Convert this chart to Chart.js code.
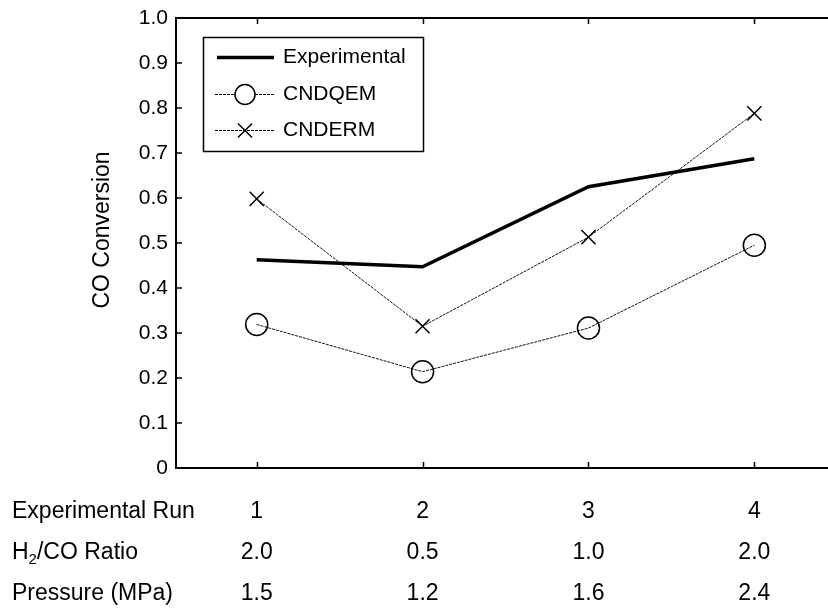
<!DOCTYPE html>
<html>
<head>
<meta charset="utf-8">
<script src="https://cdn.jsdelivr.net/npm/chart.js@4/dist/chart.umd.min.js"></script>
<style>
  html, body { margin: 0; padding: 0; background: #fff; overflow: hidden; }
  #wrap { position: relative; width: 828px; height: 611px; }
</style>
</head>
<body>
<div id="wrap"><canvas id="c" width="828" height="611"></canvas></div>
<script>
// ---- data ----
const runs = [1, 2, 3, 4];
const h2coRatio = ['2.0', '0.5', '1.0', '2.0'];
const pressure = ['1.5', '1.2', '1.6', '2.4'];
const experimental = [0.463, 0.447, 0.625, 0.687];
const cndqem = [0.319, 0.214, 0.311, 0.495];
const cnderm = [0.598, 0.315, 0.513, 0.788];
const yTicks = [0, 0.1, 0.2, 0.3, 0.4, 0.5, 0.6, 0.7, 0.8, 0.9, 1.0];
const seriesNames = ['Experimental', 'CNDQEM', 'CNDERM'];
const rowHeaders = ['Experimental Run', 'H2/CO Ratio', 'Pressure (MPa)'];
const yTitle = 'CO Conversion';

const FONT = "'Liberation Sans', Arial, sans-serif";
const TABLE_FONT = 23;
const TABLE_LH = 41;
const TABLE_PAD = 23;

function pts(vals) { return runs.map((r, i) => ({ x: r, y: vals[i] })); }

const axesPlugin = {
  id: 'axesPlugin',
  afterDraw(chart) {
    const ctx = chart.ctx;
    const a = chart.chartArea;
    const xs = chart.scales.x, ys = chart.scales.y;
    ctx.save();
    ctx.strokeStyle = '#000';
    // top line
    ctx.lineWidth = 2;
    ctx.beginPath();
    ctx.moveTo(a.left - 1, a.top);
    ctx.lineTo(a.right, a.top);
    ctx.stroke();
    // inward ticks
    ctx.lineWidth = 1.5;
    ctx.beginPath();
    runs.forEach(r => {
      const px = Math.round(xs.getPixelForValue(r)) + 0.5;
      ctx.moveTo(px, a.bottom); ctx.lineTo(px, a.bottom - 6);
      ctx.moveTo(px, a.top); ctx.lineTo(px, a.top + 6);
    });
    yTicks.forEach(v => {
      const py = ys.getPixelForValue(v);
      ctx.moveTo(a.left, py); ctx.lineTo(a.left + 6, py);
    });
    ctx.stroke();

    // y title
    ctx.save();
    ctx.translate(103, 230);
    ctx.rotate(-Math.PI / 2);
    ctx.fillStyle = '#000';
    ctx.font = '23px ' + FONT;
    ctx.textAlign = 'center';
    ctx.textBaseline = 'middle';
    ctx.fillText(yTitle, 0, 0);
    ctx.restore();

    // table row headers
    ctx.fillStyle = '#000';
    ctx.textBaseline = 'middle';
    ctx.textAlign = 'left';
    const x0 = 12;
    rowHeaders.forEach((h, i) => {
      const y = a.bottom + TABLE_PAD + TABLE_LH * (i + 0.5);
      if (h.startsWith('H2')) {
        ctx.font = TABLE_FONT + 'px ' + FONT;
        ctx.fillText('H', x0, y);
        let w = ctx.measureText('H').width;
        ctx.font = '15px ' + FONT;
        ctx.fillText('2', x0 + w, y + 7);
        w += ctx.measureText('2').width;
        ctx.font = TABLE_FONT + 'px ' + FONT;
        ctx.fillText(h.slice(2), x0 + w, y);
      } else {
        ctx.font = TABLE_FONT + 'px ' + FONT;
        ctx.fillText(h, x0, y);
      }
    });

    // legend
    const lx = 203, ly = 37, lw = 220, lh = 114;
    ctx.lineWidth = 1.5;
    ctx.strokeStyle = '#000';
    ctx.strokeRect(lx + 0.5, ly + 0.5, lw, lh);
    const rowsY = [57, 94, 130];
    ctx.font = '21px ' + FONT;
    ctx.textBaseline = 'middle';
    chart.data.datasets.forEach((ds, i) => {
      const y = rowsY[i] + 0.5;
      ctx.strokeStyle = '#000';
      ctx.lineWidth = ds.borderWidth;
      ctx.setLineDash(ds.borderDash || []);
      ctx.beginPath();
      const x1 = i === 0 ? 217 : 215, x2 = 274;
      ctx.moveTo(x1, y); ctx.lineTo(x2, y);
      ctx.stroke();
      ctx.setLineDash([]);
      const cx = 245;
      ctx.lineWidth = 1.5;
      if (ds.pointStyle === 'circle' && ds.pointRadius > 0) {
        ctx.fillStyle = '#fff';
        ctx.beginPath(); ctx.arc(cx, y, ds.pointRadius - 1, 0, Math.PI * 2);
        ctx.fill(); ctx.stroke();
      } else if (ds.pointStyle === 'crossRot' && ds.pointRadius > 0) {
        const r = ds.pointRadius * Math.SQRT1_2;
        ctx.beginPath();
        ctx.moveTo(cx - r, y - r); ctx.lineTo(cx + r, y + r);
        ctx.moveTo(cx - r, y + r); ctx.lineTo(cx + r, y - r);
        ctx.stroke();
      }
      ctx.fillStyle = '#000';
      ctx.fillText(ds.label, 283, y);
    });
    ctx.restore();
  }
};

new Chart(document.getElementById('c'), {
  type: 'scatter',
  data: {
    datasets: [
      { label: seriesNames[0], data: pts(experimental), showLine: true,
        borderColor: '#000', borderWidth: 3.5, pointRadius: 0, pointStyle: 'circle' },
      { label: seriesNames[1], data: pts(cndqem), showLine: true,
        borderColor: '#111', borderWidth: 1, borderDash: [3, 1], pointStyle: 'circle', pointRadius: 11,
        pointBorderWidth: 1.5, pointBackgroundColor: 'rgba(0,0,0,0)', pointBorderColor: '#000' },
      { label: seriesNames[2], data: pts(cnderm), showLine: true,
        borderColor: '#111', borderWidth: 1, borderDash: [3, 1], pointStyle: 'crossRot', pointRadius: 10,
        pointBorderWidth: 1.5, pointBorderColor: '#000' }
    ]
  },
  options: {
    responsive: false,
    animation: false,
    layout: { autoPadding: false, padding: { left: 88, top: 18, right: 0, bottom: 0 } },
    plugins: { legend: { display: false }, tooltip: { enabled: false } },
    elements: { line: { tension: 0 } },
    scales: {
      x: {
        type: 'linear', min: 0.5135, max: 4.444,
        afterBuildTicks(s) { s.ticks = runs.map(v => ({ value: v })); },
        afterFit(s) { s.height = 143; s.paddingLeft = 0; s.paddingRight = 0; },
        grid: { display: true, drawOnChartArea: false, drawTicks: false },
        border: { display: true, color: '#000', width: 2 },
        ticks: {
          color: '#000', padding: TABLE_PAD, maxRotation: 0, autoSkip: false,
          font: { family: FONT, size: TABLE_FONT, lineHeight: TABLE_LH / TABLE_FONT },
          callback(v) {
            const i = runs.indexOf(v);
            return i < 0 ? '' : [String(runs[i]), h2coRatio[i], pressure[i]];
          }
        }
      },
      y: {
        min: 0, max: 1,
        afterBuildTicks(s) { s.ticks = yTicks.map(v => ({ value: v })); },
        afterFit(s) { s.width = 88; s.paddingTop = 0; s.paddingBottom = 0; },
        grid: { display: true, drawOnChartArea: false, drawTicks: false },
        border: { display: true, color: '#000', width: 2 },
        title: { display: false },
        ticks: {
          color: '#000', padding: 8,
          font: { family: FONT, size: 21 },
          callback(v) { return v === 0 ? '0' : v.toFixed(1); }
        }
      }
    }
  },
  plugins: [axesPlugin]
});
</script>
</body>
</html>
